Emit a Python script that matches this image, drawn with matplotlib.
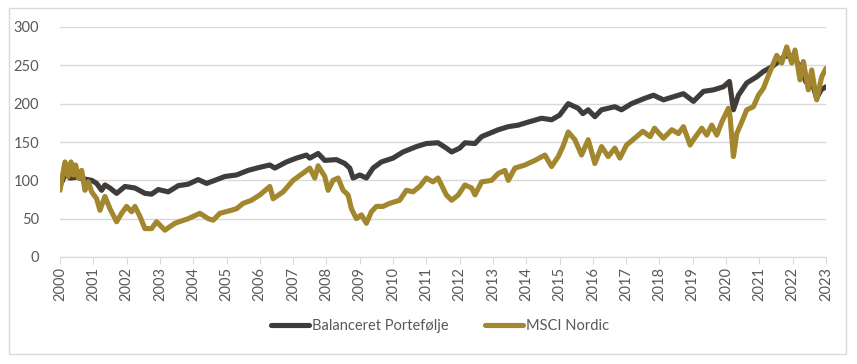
import matplotlib.pyplot as plt
from matplotlib.patches import Rectangle

# values (index, start 2000)
bal_years = [2000.0, 2000.08, 2000.15, 2000.3, 2000.5, 2000.7, 2000.95, 2001.1, 2001.25, 2001.35,
             2001.5, 2001.7, 2001.95, 2002.25, 2002.55, 2002.75, 2002.95, 2003.25, 2003.55, 2003.85,
             2004.15, 2004.4, 2004.65, 2004.95, 2005.3, 2005.65, 2006.0, 2006.3, 2006.45, 2006.8,
             2007.1, 2007.4, 2007.5, 2007.75, 2007.95, 2008.3, 2008.55, 2008.7, 2008.8, 2009.0,
             2009.2, 2009.4, 2009.65, 2010.0, 2010.3, 2010.7, 2011.0, 2011.35, 2011.6, 2011.76,
             2012.0, 2012.16, 2012.46, 2012.66, 2013.16, 2013.46, 2013.76, 2014.06, 2014.46, 2014.76,
             2015.0, 2015.26, 2015.56, 2015.7, 2015.86, 2016.06, 2016.26, 2016.66, 2016.86, 2017.16,
             2017.56, 2017.82, 2018.12, 2018.42, 2018.72, 2019.02, 2019.32, 2019.62, 2019.92, 2020.1,
             2020.22, 2020.37, 2020.62, 2020.92, 2021.12, 2021.37, 2021.52, 2021.75, 2022.0, 2022.2,
             2022.4, 2022.55, 2022.72, 2022.85, 2023.0]
bal_values = [93, 100, 109, 103, 104, 102, 100, 96, 87, 94,
              90, 83, 92, 90, 83, 82, 88, 85, 93, 95,
              101, 96, 100, 105, 107, 113, 117, 120, 116, 124,
              129, 133, 129, 135, 126, 127, 122, 116, 103, 107,
              103, 116, 124, 129, 137, 144, 148, 149, 142, 137,
              142, 149, 148, 157, 166, 170, 172, 176, 181, 179,
              185, 200, 194, 187, 192, 183, 192, 196, 192, 200,
              207, 211, 205, 209, 213, 203, 216, 218, 222, 229,
              192, 211, 227, 235, 242, 248, 253, 262, 262, 250,
              228, 232, 207, 218, 222]

msci_years = [2000.0, 2000.15, 2000.25, 2000.33, 2000.4, 2000.47, 2000.55, 2000.65, 2000.75, 2000.85,
              2000.95, 2001.1, 2001.2, 2001.35, 2001.5, 2001.7, 2001.85, 2002.0, 2002.15, 2002.25,
              2002.4, 2002.55, 2002.75, 2002.9, 2003.15, 2003.45, 2003.85, 2004.2, 2004.45, 2004.6,
              2004.8, 2005.15, 2005.3, 2005.5, 2005.75, 2006.0, 2006.3, 2006.4, 2006.7, 2007.0,
              2007.35, 2007.5, 2007.65, 2007.75, 2007.95, 2008.05, 2008.2, 2008.35, 2008.5, 2008.65,
              2008.75, 2008.9, 2009.05, 2009.2, 2009.35, 2009.5, 2009.7, 2009.9, 2010.2, 2010.4,
              2010.6, 2010.8, 2011.0, 2011.2, 2011.35, 2011.6, 2011.76, 2011.96, 2012.16, 2012.36,
              2012.46, 2012.66, 2012.96, 2013.16, 2013.36, 2013.46, 2013.66, 2013.96, 2014.26, 2014.56,
              2014.76, 2014.96, 2015.1, 2015.26, 2015.46, 2015.66, 2015.86, 2016.06, 2016.26, 2016.46,
              2016.66, 2016.81, 2017.01, 2017.26, 2017.5, 2017.72, 2017.85, 2018.12, 2018.37, 2018.57,
              2018.72, 2018.92, 2019.02, 2019.27, 2019.42, 2019.57, 2019.72, 2019.87, 2020.07, 2020.12,
              2020.22, 2020.32, 2020.47, 2020.62, 2020.82, 2020.97, 2021.12, 2021.32, 2021.52, 2021.67,
              2021.82, 2021.97, 2022.07, 2022.22, 2022.32, 2022.47, 2022.57, 2022.72, 2022.87, 2023.0]
msci_values = [87, 124, 105, 124, 107, 120, 103, 113, 87, 98,
               85, 76, 61, 79, 63, 46, 57, 66, 59, 66,
               53, 37, 37, 46, 35, 44, 50, 57, 50, 48,
               57, 61, 63, 70, 74, 81, 92, 76, 85, 100,
               111, 116, 103, 119, 105, 87, 100, 103, 87, 81,
               63, 50, 55, 44, 59, 66, 66, 70, 74, 87,
               85, 92, 103, 98, 103, 81, 74, 81, 94, 90,
               81, 98, 100, 109, 113, 100, 116, 120, 126, 133,
               118, 131, 144, 163, 153, 133, 153, 122, 144, 131,
               142, 129, 146, 155, 164, 157, 168, 155, 166, 161,
               170, 146, 153, 168, 159, 172, 159, 176, 194, 183,
               131, 161, 176, 192, 196, 211, 220, 242, 263, 253,
               274, 253, 270, 231, 255, 218, 244, 205, 235, 246]

year_ticks = list(range(2000, 2024))
y_ticks = [0, 50, 100, 150, 200, 250, 300]

dark = '#403c39'
gold = '#a3872f'
grey_text = '#595959'
grid_col = '#d9d9d9'

plt.rcParams['font.family'] = ['Lato', 'DejaVu Sans']

fig = plt.figure(figsize=(8.57, 3.64), dpi=100)
fig.patches.append(Rectangle((9 / 857, 10 / 364), 837 / 857, 346 / 364, transform=fig.transFigure,
                             fill=False, edgecolor=grid_col, linewidth=1))
ax = fig.add_axes([60 / 857, 107 / 364, 766 / 857, 230 / 364])

ax.plot(bal_years, bal_values, color=dark, linewidth=3.7, label='Balanceret Portefølje',
        solid_capstyle='round', solid_joinstyle='round')
ax.plot(msci_years, msci_values, color=gold, linewidth=3.7, label='MSCI Nordic',
        solid_capstyle='round', solid_joinstyle='round')

ax.set_xlim(2000, 2023)
ax.set_ylim(0, 300)
ax.set_xticks(year_ticks)
ax.set_xticklabels([str(y) for y in year_ticks], rotation=90)
ax.set_yticks(y_ticks)
ax.grid(axis='y', color=grid_col, linewidth=1)
ax.set_axisbelow(True)

for s in ['top', 'right', 'left']:
    ax.spines[s].set_visible(False)
ax.spines['bottom'].set_color(grid_col)
ax.tick_params(axis='x', length=5, color=grid_col, labelsize=10.5, labelcolor=grey_text, pad=2)
ax.tick_params(axis='y', length=0, labelsize=10.5, labelcolor=grey_text, pad=15)

fig.legend(loc='center', bbox_to_anchor=(440 / 857, 1 - 326 / 364), ncol=2, frameon=False,
           fontsize=10.5, labelcolor=grey_text, handlelength=2.6, handletextpad=0.2, columnspacing=2.5)

plt.savefig('out.png', dpi=100)
